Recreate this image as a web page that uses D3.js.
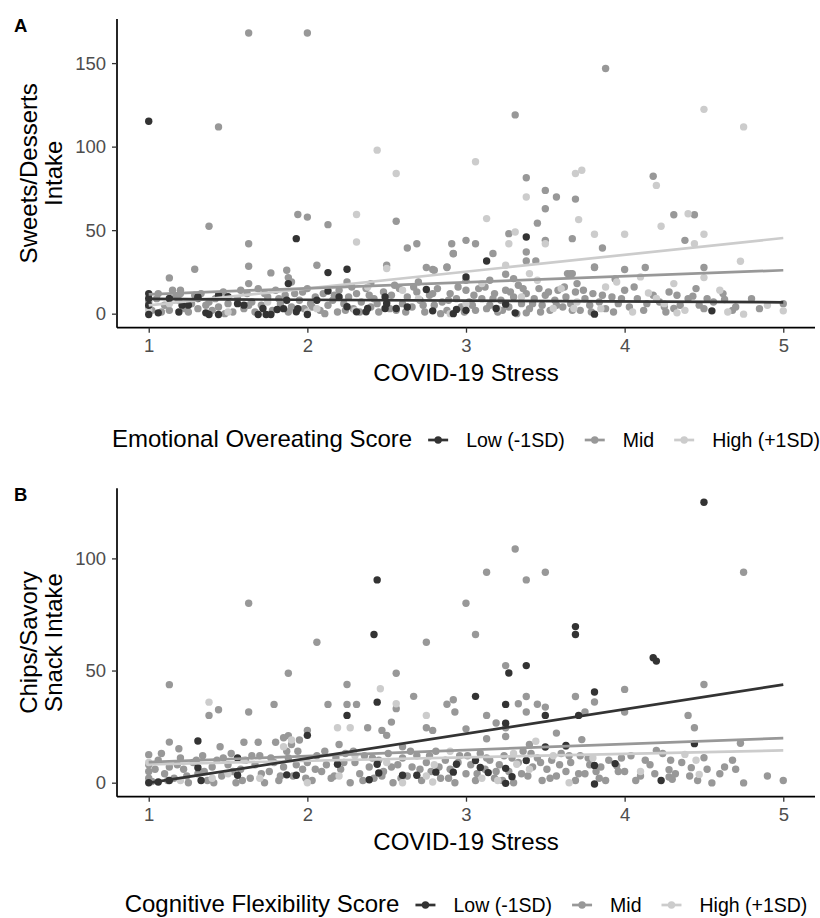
<!DOCTYPE html>
<html><head><meta charset="utf-8">
<script src="https://cdn.jsdelivr.net/npm/d3@7/dist/d3.min.js"></script>
<style>
body{margin:0;background:#fff;}
svg{display:block;font-family:"Liberation Sans",Arial,sans-serif;}
</style></head>
<body><svg id="chart" width="820" height="918"></svg>
<script>
// ---------- data ----------
const groups = ["Low (-1SD)", "Mid", "High (+1SD)"];
const groupColors = ["#333333", "#989898", "#cccccc"];
const xTicks = [1, 2, 3, 4, 5];
const sweetsTicks = [0, 50, 100, 150];
const chipsTicks = [0, 50, 100];
const fitX = [1, 5];
// fitted values at stress = 1 and 5 for Low, Mid, High
const sweetsFit = [[8.8, 6.8], [11.6, 26.0], [5.0, 45.3]];
const chipsFit = [[-0.1, 43.7], [9.2, 19.9], [8.2, 14.4]];

const sweetsLow = [[1.0,115.2],[1.93,44.9],[3.38,45.9],[3.13,31.5],[2.13,24.6],[2.25,26.6],[1.88,18.0],[3.0,22.0],[2.75,14.5],
 [1.0,12.0],[1.0,9.1],[1.0,-0.5],[1.0,5],[1.06,0.5],[1.13,9.1],[1.21,5.1],[1.25,5.1],[1.31,9.1],[1.36,0.5],[1.38,-0.5],
 [1.44,-0.5],[1.44,11.1],[1.50,10.1],[1.60,5.1],[1.69,-0.5],[1.72,3.1],[1.74,-0.5],[1.77,-0.5],[1.81,2.5],[1.93,1.1],
 [1.94,3.0],[2.0,-0.5],[2.13,13.6],[2.25,4.1],[2.31,1.1],[2.37,1.1],[2.38,3.1],[2.49,3.1],[2.56,3.1],[2.49,10],[2.2,10],
 [2.63,4],[2.79,1.7],[2.92,0],[2.94,2.5],[3.0,2],[3.19,3.1],[3.25,5.7],[3.31,0.5],[3.81,-0.3],[4.55,1.7],[1.56,6],[2.06,8],
 [1.87,8],[1.85,3],[2.5,6],[1.19,1],[1.31,10]];
const sweetsMid = [[1.44,111.8],[1.63,168],[2.0,168],[3.88,146.8],[3.31,119],[3.38,81.4],[4.18,82.3],[3.50,73.8],[3.57,69.8],
 [3.69,68.6],[3.50,62.8],[3.45,54.2],[4.31,59.2],[4.44,59.2],[3.27,47.9],[3.50,43.9],[3.67,44.9],[4.38,43.9],[2.63,39.3],
 [2.69,41.9],[2.91,41.9],[3.0,43.9],[3.06,41.9],[2.92,36.0],[3.17,36.0],[3.38,36.9],[3.38,31.5],[3.44,31.5],[3.86,39.3],
 [3.81,27.6],[4.0,26.4],[4.13,27.6],[4.5,27.6],[2.88,27.6],[2.75,27.6],[2.79,26.4],[3.64,24],[3.67,24],[3.25,23.6],[3.15,20],
 [3.94,20.8],[4.43,10.5],[4.63,8.5],[4.31,3.1],[4.25,4.1],[4.47,5.1],[3.38,0.5],[1.38,52.3],[1.94,59.4],[2.0,57.8],[2.13,53.3],
 [2.56,55.3],[1.63,41.9],[1.13,21.4],[1.29,26.6],[1.63,28.4],[1.63,18.0],[1.77,24.4],[1.87,26.0],[1.88,21.6],[2.06,29.0],
 [2.25,19.0],[2.5,29.0],[2.8,26.0],[2.88,28],[2.92,35.9],[3.81,28.0],[3.66,24],[1.2,14],[1.06,12],
 [1.0,4],[1.0,7],[1.02,2],[1.1,5],[1.13,2],[1.15,14],[1.19,8],[1.2,12],[1.25,1],[1.27,6],[1.31,3],[1.33,12],[1.38,7],[1.4,2],
 [1.44,4],[1.47,13],[1.5,6],[1.53,1],[1.56,9],[1.6,3],[1.62,12],[1.65,7],[1.69,15],[1.71,5],[1.75,10],[1.78,2],[1.8,14],
 [1.83,6],[1.86,11],[1.9,4],[1.92,12],[1.95,8],[1.98,3],[2.0,15],[2.02,6],[2.05,10],[2.08,2],[2.1,12],[2.13,5],[2.16,8],
 [2.19,1],[2.2,14],[2.23,6],[2.26,10],[2.29,3],[2.31,12],[2.34,7],[2.37,15],[2.4,4],[2.42,9],[2.45,1],[2.48,13],[2.5,7],
 [2.53,11],[2.56,2],[2.58,15],[2.6,6],[2.63,10],[2.66,4],[2.69,13],[2.71,8],[2.74,1],[2.77,11],[2.8,5],[2.82,15],[2.85,7],
 [2.88,2],[2.9,12],[2.94,9],[2.97,4],[3.0,14],[3.02,7],[3.05,11],[3.06,2],[3.1,9],[3.12,16],[3.15,5],[3.18,12],[3.2,1],
 [3.22,8],[3.25,14],[3.27,4],[3.3,10],[3.33,17],[3.35,6],[3.38,12],[3.4,3],[3.43,9],[3.46,15],[3.48,5],[3.5,11],[3.53,2],
 [3.56,8],[3.58,14],[3.61,4],[3.63,10],[3.66,6],[3.69,13],[3.72,2],[3.75,9],[3.78,5],[3.8,12],[3.84,7],[3.88,3],[3.92,10],
 [3.96,6],[4.0,14],[4.03,4],[4.08,9],[4.12,2],[4.18,11],[4.22,7],[4.28,13],[4.35,5],[4.4,9],[4.5,3],[4.56,7],[4.62,12],
 [4.7,4],[4.8,9],[3.0,20],[2.4,18],[3.7,18],[2.7,19],[1.9,19],[3.3,21],
 [1.05,9],[1.08,1],[1.17,10],[1.23,3],[1.29,11],[1.36,5],[1.42,9],[1.48,0],[1.58,14],[1.63,5],[1.67,1],[1.73,12],[1.82,9],
 [1.88,1],[1.97,13],[2.03,4],[2.11,0],[2.17,11],[2.24,2],[2.28,16],[2.33,1],[2.39,11],[2.44,6],[2.52,3],[2.55,17],[2.62,1],
 [2.67,16],[2.73,5],[2.79,12],[2.84,0],[2.89,8],[2.95,16],[2.99,1],[3.04,5],[3.08,15],[3.13,3],[3.17,9],[3.23,2],[3.28,13],
 [3.32,0],[3.36,15],[3.42,6],[3.47,1],[3.52,13],[3.57,5],[3.62,16],[3.67,2],[3.74,14],[3.79,1],[3.86,11],[3.93,1],[3.98,9],
 [4.06,16],[4.14,6],[4.26,1],[4.33,11],[4.45,15],[4.52,9],[4.68,2],[4.85,3],[5.0,6]];
const sweetsHigh = [[2.44,97.9],[2.56,83.9],[4.50,122.3],[4.75,111.8],[3.06,90.9],[3.69,83.9],[3.73,85.9],[4.20,76.8],[3.38,69.8],
 [3.13,56.9],[3.71,56.3],[4.40,59.8],[4.23,52.3],[3.31,48.9],[3.27,41.9],[3.50,41.9],[3.81,47.5],[4.0,47.5],[4.5,47.5],
 [4.44,41.9],[4.5,21.6],[4.73,31.4],[4.31,18.0],[3.88,16.0],[4.15,12.4],[4.75,-0.3],[5.0,1.7],[4.33,0.5],[4.2,9.1],[3.55,3.1],
 [3.68,3.1],[2.31,59.4],[2.31,42.9],[1.0,2],[1.13,6],[1.5,1],[1.75,7],[2.0,1],[2.06,3],[2.3,2],[2.38,16],[2.6,14],[2.7,9],
 [2.9,0],[3.0,6],[3.1,18],[3.2,3],[3.35,10],[3.45,20],[3.6,15],[3.7,7],[3.85,3],[3.95,19],[4.05,1],[4.1,22],[4.25,6],
 [4.38,2],[4.6,14],[4.65,1],[4.9,5],[3.25,29],[3.4,24],[2.5,27]];

const chipsLow = [[4.50,125],[2.44,90.4],[2.42,66.1],[3.69,69.6],[3.69,66.1],[4.18,55.7],[4.20,54.2],[3.38,52.2],[3.27,48.9],
 [3.81,40.4],[3.06,38.5],[2.44,35.9],[3.25,34.9],[3.50,30.0],[3.71,30.0],[2.25,30.0],[3.25,26.5],[2.0,21.1],[1.31,18.6],
 [3.50,15.9],[3.63,16.6],[4.44,17.4],[4.23,1.0],[3.81,-0.6],[3.81,7.7],[3.94,8.5],[3.25,-0.3],[3.29,2.7],[3.06,9.9],
 [3.09,6.8],[3.14,4.5],[3.25,6.4],[2.94,8.2],[2.92,4.7],[2.81,4.7],[2.69,3.3],[2.60,3.3],[2.44,8.2],[2.45,4.3],[2.39,1.3],
 [2.19,8.2],[1.93,3.3],[1.56,3.3],[1.33,1.0],[1.31,6.7],[1.13,1.0],[1.06,0.3],[1.0,0],[3.38,9.9],[1.56,11],[1.87,3.5]];
const chipsMid = [[1.63,80.0],[2.06,62.6],[4.75,93.8],[3.31,104.2],[3.13,93.8],[3.50,93.8],[3.38,90.4],[3.0,80.0],[3.06,66.1],
 [2.75,62.6],[3.25,52.2],[1.13,43.7],[1.88,48.8],[2.56,48.8],[2.25,43.8],[4.0,41.6],[4.50,43.8],[3.81,36.0],[2.67,38.5],
 [2.56,33.0],[2.13,34.9],[2.25,34.9],[2.31,34.9],[1.38,30.0],[1.44,32.5],[1.63,31.5],[1.79,34.9],[2.88,35.0],[2.92,37.0],
 [2.93,31.5],[3.33,35.2],[3.38,38.4],[3.45,35.0],[3.38,31.5],[3.50,33.7],[3.69,38.4],[3.75,31.5],[4.0,31.5],[4.40,30.0],
 [4.44,24.5],[2.38,24.5],[2.47,23.3],[2.50,21.1],[2.53,27.0],[2.75,24.5],[2.79,23.3],[3.13,30.0],[3.19,26.6],[3.25,24.5],
 [3.0,24.0],[3.13,19.6],[3.25,20.6],[3.57,22.1],[1.8,18],[1.85,20],[1.88,21],[1.9,17],[1.95,19],[2.0,23.3],[1.6,18],
 [1.69,18],[1.13,18.1],[1.19,15.1],[1.0,12.5],[3.63,16.2],[3.73,19.2],[4.73,17.6],[4.50,11.1],[4.63,7.0],[4.75,-0.1],
 [5.0,1.0],[4.55,-0.1],[4.3,1.5],[4.28,2.5],[4.13,10],[4.2,14.4],[4.42,6.7],[4.28,5.8],[3.85,7],[4.0,5],[3.95,7.5],
 [1.0,2],[1.0,5],[1.0,8],[1.02,0.5],[1.06,10],[1.1,4],[1.13,7],[1.16,2],[1.2,11],[1.22,6],[1.25,0],[1.28,9],[1.31,4],
 [1.34,12],[1.37,1],[1.4,7],[1.43,10],[1.46,3],[1.5,8],[1.52,13],[1.55,0],[1.58,6],[1.61,10],[1.64,2],[1.67,8],[1.7,12],
 [1.73,0],[1.76,5],[1.79,9],[1.82,1],[1.85,7],[1.88,11],[1.91,3],[1.94,14],[1.97,6],[2.0,9],[2.03,1],[2.06,12],[2.09,5],
 [2.12,8],[2.15,2],[2.18,11],[2.21,6],[2.24,13],[2.27,0],[2.3,9],[2.33,4],[2.36,12],[2.39,7],[2.42,2],[2.45,10],[2.48,5],
 [2.51,13],[2.54,0],[2.57,8],[2.6,11],[2.63,3],[2.66,7],[2.69,12],[2.72,1],[2.75,9],[2.78,5],[2.81,14],[2.84,2],[2.87,10],
 [2.9,6],[2.93,0],[2.96,12],[3.0,4],[3.03,8],[3.06,1],[3.09,13],[3.12,6],[3.15,10],[3.18,2],[3.21,8],[3.24,12],[3.27,5],
 [3.3,0],[3.33,9],[3.36,14],[3.39,3],[3.42,7],[3.45,11],[3.48,1],[3.51,6],[3.54,10],[3.57,3],[3.6,13],[3.63,5],[3.66,9],
 [3.69,1],[3.72,12],[3.75,4],[3.78,8],[3.84,2],[3.9,10],[3.96,5],[4.04,12],[4.1,3],[4.16,8],[4.24,13],[4.32,4],[4.36,9],
 [4.46,1],[4.6,4],[4.68,10],[2.2,17],[2.6,16],[3.4,17],[1.45,16],
 [1.04,6],[1.08,13],[1.12,1],[1.18,8],[1.24,3],[1.3,10],[1.35,5],[1.41,0],[1.47,11],[1.53,5],[1.59,1],[1.65,12],[1.71,4],
 [1.77,11],[1.83,3],[1.87,14],[1.93,8],[1.99,2],[2.05,6],[2.11,14],[2.17,3],[2.23,9],[2.29,14],[2.35,1],[2.41,11],[2.47,3],
 [2.53,7],[2.59,2],[2.65,14],[2.71,6],[2.77,12],[2.83,7],[2.89,2],[2.95,9],[3.01,12],[3.07,4],[3.13,11],[3.19,5],[3.23,1],
 [3.29,11],[3.35,4],[3.41,13],[3.47,9],[3.53,2],[3.59,8],[3.65,12],[3.71,4],[3.77,11],[3.82,5],[3.88,1],[3.98,11],[4.07,1],
 [4.19,4],[4.29,10],[4.41,3],[4.52,6],[4.7,6],[4.9,3]];
const chipsHigh = [[2.46,41.9],[2.56,35.2],[1.38,35.9],[2.19,24.5],[2.27,24.5],[2.75,30.0],[3.44,18.5],[4.47,3.7],[4.38,12.6],
 [2.79,0.3],[3.2,1],[3.32,8.2],[2.8,8],[1.2,1],[1.5,4],[1.7,2],[1.85,16],[1.9,19],[2.0,0],[2.3,12],[2.5,9],[2.6,0],[2.75,3],
 [2.9,14],[3.1,2],[3.3,13],[3.4,6],[3.55,12],[3.65,0],[3.8,11],[4.1,5],[4.45,10],[2.2,3],[1.4,2],[1.0,9],[1.6,10]];

// ---------- drawing ----------
const svg = d3.select("#chart");
const inkColor = "#000";
const tickText = "#4d4d4d";
const pointR = 3.7;

function panel(cfg) {
  const x = d3.scaleLinear().domain([0.8, 5.2]).range([117, 815]);
  const y = d3.scaleLinear().domain(cfg.yDomain).range([cfg.bottom, cfg.top]);
  const g = svg.append("g");

  // points (Mid, High, Low order)
  const sets = [[cfg.points[1], 1], [cfg.points[2], 2], [cfg.points[0], 0]];
  sets.forEach(([pts, gi]) => {
    g.append("g").selectAll("circle").data(pts).join("circle")
      .attr("cx", d => x(d[0])).attr("cy", d => y(d[1]))
      .attr("r", pointR).attr("fill", groupColors[gi]);
  });
  // fitted lines
  const line = d3.line().x(d => x(d[0])).y(d => y(d[1]));
  [2, 1, 0].forEach(gi => {
    g.append("path").datum(fitX.map((v, i) => [v, cfg.fit[gi][i]]))
      .attr("d", line).attr("fill", "none")
      .attr("stroke", groupColors[gi]).attr("stroke-width", 2.7);
  });

  // axes
  const xa = g.append("g").attr("transform", `translate(0,${cfg.bottom})`)
    .call(d3.axisBottom(x).tickValues(xTicks).tickSize(5).tickPadding(6.5).tickFormat(d3.format("d")));
  const ya = g.append("g").attr("transform", "translate(117,0)")
    .call(d3.axisLeft(y).tickValues(cfg.yTicks).tickSize(5).tickPadding(6).tickFormat(d3.format("d")));
  [xa, ya].forEach(a => {
    a.select(".domain").attr("stroke", inkColor).attr("stroke-width", 1.7);
    a.selectAll(".tick line").attr("stroke", "#333").attr("stroke-width", 1.3);
    a.selectAll(".tick text").attr("fill", tickText).attr("font-size", 18.5)
      .attr("font-family", "Liberation Sans, Arial, sans-serif");
  });
  xa.select(".domain").attr("d", `M117,0H815`);
  ya.select(".domain").attr("d", `M0,${cfg.top}V${cfg.bottom}`);

  // titles
  g.append("text").attr("x", 466).attr("y", cfg.bottom + 53)
    .attr("text-anchor", "middle").attr("font-size", 24).attr("fill", "#000").text("COVID-19 Stress");
  const cy = (cfg.top + cfg.bottom) / 2;
  cfg.yTitle.forEach((t, i) => {
    g.append("text").attr("transform", `translate(${37 + 25 * i},${cy}) rotate(-90)`)
      .attr("text-anchor", "middle").attr("font-size", 24).attr("fill", "#000").text(t);
  });
  g.append("text").attr("x", 14).attr("y", cfg.top + 12.5).attr("font-size", 18.5)
    .attr("font-weight", "bold").attr("fill", "#000").text(cfg.label);

  // legend
  const lg = svg.append("g");
  const title = lg.append("text").attr("x", 0).attr("y", cfg.legendY + 7).attr("font-size", 24).attr("fill", "#000").text(cfg.legendTitle);
  let cx = title.node().getComputedTextLength() + 16;
  groups.forEach((name, gi) => {
    lg.append("line").attr("x1", cx).attr("x2", cx + 20).attr("y1", cfg.legendY).attr("y2", cfg.legendY)
      .attr("stroke", groupColors[gi]).attr("stroke-width", 2.7);
    lg.append("circle").attr("cx", cx + 10).attr("cy", cfg.legendY).attr("r", pointR).attr("fill", groupColors[gi]);
    cx += 20 + 18;
    const t = lg.append("text").attr("x", cx).attr("y", cfg.legendY + 7).attr("font-size", 19.5).attr("fill", "#000").text(name);
    cx += t.node().getComputedTextLength() + 20;
  });
  const total = cx - 20;
  lg.attr("transform", `translate(${466 - total / 2},0)`);
}

panel({
  points: [sweetsLow, sweetsMid, sweetsHigh], fit: sweetsFit,
  yDomain: [-8.4, 176.4], yTicks: sweetsTicks, top: 19, bottom: 327.7,
  yTitle: ["Sweets/Desserts", "Intake"], label: "A",
  legendTitle: "Emotional Overeating Score", legendY: 440
});
panel({
  points: [chipsLow, chipsMid, chipsHigh], fit: chipsFit,
  yDomain: [-6.25, 131.25], yTicks: chipsTicks, top: 488.3, bottom: 796.7,
  yTitle: ["Chips/Savory", "Snack Intake"], label: "B",
  legendTitle: "Cognitive Flexibility Score", legendY: 905
});
</script></body></html>
